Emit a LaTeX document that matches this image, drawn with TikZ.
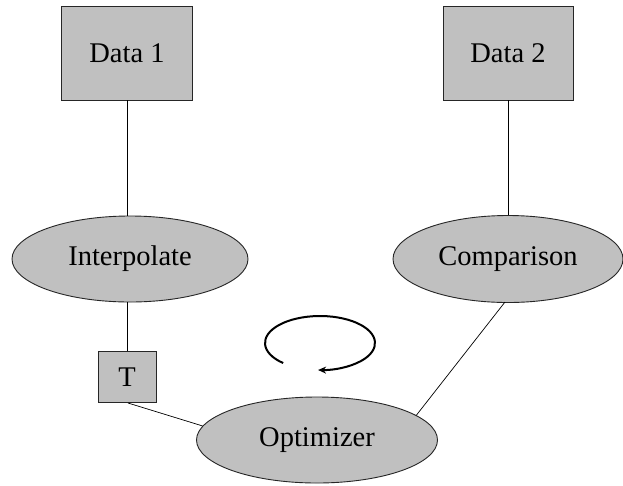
\documentclass[tikz,border=0pt]{standalone}
\usepackage{fontspec}
\setmainfont{Liberation Serif}
\usetikzlibrary{shapes.geometric,arrows.meta}
\begin{document}
\begin{tikzpicture}[x=1pt,y=-1pt,
  databox/.style={draw=black!85, fill={rgb,255:red,192;green,192;blue,192}, line width=0.9pt, inner sep=0pt, font=\fontsize{28.5}{31}\selectfont},
  oval/.style={ellipse, draw=black!85, fill={rgb,255:red,192;green,192;blue,192}, line width=0.9pt, inner sep=0pt, font=\fontsize{28.5}{31}\selectfont},
  conn/.style={draw=black, line width=0.7pt}]
\fill[white] (0,0) rectangle (623,485);
\useasboundingbox (0,0) rectangle (623,485);
\node[databox, minimum width=131pt, minimum height=94pt] (d1) at (127,53) {Data 1};
\node[databox, minimum width=130pt, minimum height=94pt] (d2) at (508,53) {Data 2};
\node[oval, minimum width=236pt, minimum height=86pt] (interp) at (130,259) {Interpolate};
\node[oval, minimum width=230pt, minimum height=87pt] (comp) at (508,259) {Comparison};
\node[databox, minimum width=58pt, minimum height=51pt] (t) at (127,377) {T};
\node[oval, minimum width=241pt, minimum height=86pt] (opt) at (317,440) {Optimizer};
\coordinate (a1) at (127,302);
\coordinate (tb) at (128,403);
\coordinate (c1) at (505,302);
\draw[conn] (d1.south) -- (d1.south |- interp.north);
\draw[conn] (d2.south) -- (d2.south |- comp.north);
\draw[conn] (a1) -- (t.north);
\draw[conn] (tb) -- (opt.173);
\draw[conn] (c1) -- (opt.14);
\draw[line width=2pt, -{Stealth[length=8pt,width=7pt]}]
  (320,343) ++(228:55pt and 27pt) arc[start angle=228, end angle=-92, x radius=55pt, y radius=27pt];
\end{tikzpicture}
\end{document}
